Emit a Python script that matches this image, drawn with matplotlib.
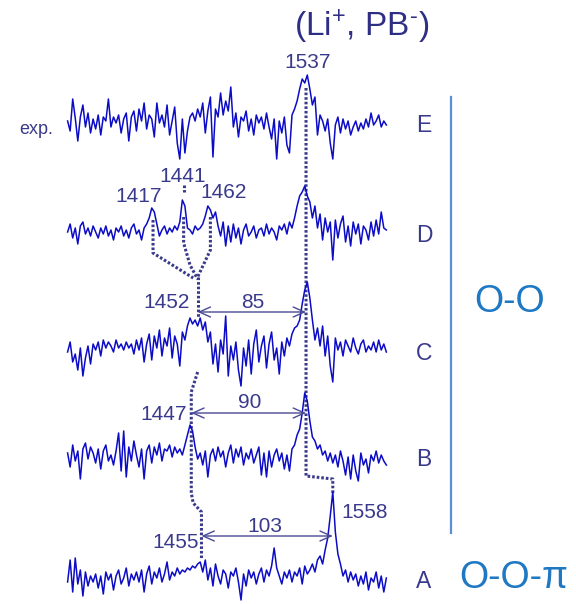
import numpy as np
import matplotlib
matplotlib.use('Agg')
import matplotlib.pyplot as plt

plt.rcParams['font.family'] = ['Liberation Sans', 'DejaVu Sans']
plt.rcParams['mathtext.default'] = 'regular'

# ---------------- data (wavenumber grid start/step, intensities) -------------
WN_START, WN_STEP = 1350, 2

trace_E = [2, -8, 24, 5, -18, 6, 18, -4, 10, -10,
           4, -6, 8, -12, 6, 2, 24, -4, 6, 0,
           8, -10, 4, 10, -18, 6, 12, -8, 14, 2,
           20, -6, 8, 4, -14, 20, 0, 8, -4, 18,
           -12, 2, 16, -20, -36, 4, -30, -8, 6, 10,
           2, 14, 6, 20, -10, 12, 26, -34, 14, 6,
           30, 8, 22, 12, 36, -4, 10, -14, 6, 2,
           12, -8, 4, -12, 8, 0, 6, -6, 10, -4,
           -16, 4, -36, 2, -10, 6, -22, -30, 8, 14,
           22, 34, 44, 40, 48, 34, 18, 26, -12, 8,
           2, -8, 4, -20, -36, -2, 6, -10, 4, -6,
           2, -12, -4, 2, -8, 0, -6, 4, -4, 10,
           -2, 2, 8, -4, 2, -2]

trace_D = [0, 8, -6, 4, -12, 6, 10, -2, 4, -4,
           6, 0, -6, 4, -2, 6, -4, 2, -8, 4,
           0, 6, -4, 2, -6, 4, 8, -2, 2, -8,
           4, 8, 14, 24, 20, 8, -4, 2, 6, -2,
           4, 0, 6, 2, 10, 32, 26, 4, 2, -2,
           6, 2, 4, 8, 16, 26, 22, 14, 20, 6,
           -4, 10, -14, 6, -10, 8, -6, 4, -12, 2,
           8, -4, 0, 6, -6, 2, 4, -4, 8, -2,
           4, 0, -8, 6, 2, 8, -2, 10, 4, 14,
           26, 36, 40, 46, 36, 30, 14, 26, 4, 18,
           -8, 14, 0, 10, -28, 12, -6, 8, 16, -10,
           6, -14, 10, -2, 8, -12, 6, 2, -8, 10,
           -4, 12, -2, 20, 4, 2]

trace_C = [-2, 8, -12, -4, -20, 2, -26, -8, 4, -14,
           6, 0, 8, -6, 10, 2, 8, 4, -2, 10,
           2, 6, 0, 8, 2, 6, -4, 10, 0, 12,
           -12, 6, 16, -10, 14, 2, 20, -6, 12, 4,
           22, -8, 14, 6, -16, 18, 10, 24, 32, 26,
           30, 24, 32, 20, 28, 8, 18, -14, 6, -22,
           10, -4, 34, -26, 4, -10, 8, -20, -36, 2,
           -16, 10, -24, 6, 20, -12, 4, 14, -18, 6,
           18, -10, 2, -24, 8, -6, 12, 4, 16, 22,
           24, 30, 46, 60, 68, 52, 30, 10, 22, 4,
           24, -6, 14, -16, -32, 12, 0, 8, -6, 10,
           4, -2, 12, 2, -4, 6, 10, -2, 4, 0,
           8, -2, 10, 0, 6, -2]

trace_B = [4, -10, 12, -4, 6, -22, 8, 14, -2, 10,
           4, -6, 8, -12, 6, 12, -4, 2, -8, 6,
           24, -14, 26, -20, 10, -4, 16, 2, -10, 8,
           -22, 6, 12, -6, 10, 2, 14, -4, 8, 6,
           12, 0, 10, 4, 8, 2, 12, 22, 32, 26,
           10, -2, 4, -8, 6, -20, 2, 8, -4, 10,
           0, 6, -10, 4, 12, -6, 8, 0, 10, -8,
           4, -2, 8, -6, 2, 10, -18, 4, -20, 6,
           -10, 2, 8, -4, 4, -12, 2, -14, 8, 12,
           22, 28, 44, 64, 56, 36, 20, 16, 8, 12,
           2, 6, -4, 4, -6, 2, -10, 6, -4, -18,
           0, -22, 2, -14, -24, 4, -8, -2, -16, 2,
           -4, 6, -6, 2, -4, -8]

trace_A = [-4, 18, -14, 20, -6, 8, -18, 6, -8, 2,
           -4, 4, -10, 2, -16, 6, -2, 4, -12, 2,
           8, -6, 0, 10, -8, 4, -2, 6, -4, 8,
           -14, 4, 12, -6, 6, 0, 10, -4, 4, 16,
           -2, 6, 2, 10, 4, 8, 6, 10, 8, 12,
           10, 14, 16, 6, 18, -2, 10, -8, 14, 2,
           -6, 8, 4, -10, 6, 2, 10, -4, -22, 4,
           -8, 8, 0, 6, -6, 4, 10, -4, 8, 2,
           12, 30, 10, 2, -6, 6, 0, 8, -4, 6,
           2, 10, -6, 12, 4, 8, 14, 6, 18, 22,
           14, 28, 40, 62, 86, 46, 24, 14, 2, 8,
           -4, 6, -2, 4, -8, 2, -6, 6, -12, 0,
           -4, 6, -10, 2, -14, 0]

traces = [trace_E, trace_D, trace_C, trace_B, trace_A]
trace_names = ['E', 'D', 'C', 'B', 'A']

peak_E = [1537]
peak_D = [1417, 1441, 1462]
peak_C = 1452
peak_B = 1447
peak_A = [1455, 1558]
splittings = [85, 90, 103]

# ---------------- layout ----------------
PX0, WN0, SCALE = 67.6, 1350, 1.275      # pixel of WN0, pixels per cm-1
W, H = 576, 604
baselines = [123, 232, 350, 457, 578]

def xw(px):
    return WN0 + (px - PX0) / SCALE

fig = plt.figure(figsize=(W / 100, H / 100), dpi=100)
ax = fig.add_axes([0, 0, 1, 1])
ax.set_xlim(xw(0), xw(W))
ax.set_ylim(H, 0)
ax.axis('off')

TRACE_COL = '#0c0cc6'
DARK = '#3a3a8c'
OO_COL = '#1f78c4'

for vals, base in zip(traces, baselines):
    x = WN_START + WN_STEP * np.arange(len(vals))
    ax.plot(x, base - np.asarray(vals, float), color=TRACE_COL, lw=1.1, zorder=3)

dot = dict(color=DARK, lw=2.2, linestyle=(0, (0.85, 0.65)), dash_capstyle='butt', zorder=2)
# 1537 -> 1558 guide
ax.plot([peak_E[0], peak_E[0], peak_A[1], peak_A[1]], [88, 476, 479, 493], **dot)
# D components merging to C
ax.plot([peak_D[1], peak_D[1]], [185, 192], **dot)
ax.plot([peak_D[0], peak_D[0], peak_C - 3.5], [220, 253, 278], **dot)
ax.plot([peak_D[1], peak_D[1], peak_D[1] + 5, peak_C], [217, 243, 265, 279], **dot)
ax.plot([peak_D[2], peak_D[2], peak_C], [217, 250, 277], **dot)
ax.plot([peak_C, peak_C], [277, 318], **dot)
# C -> B -> A
ax.plot([peak_C, peak_B, peak_B, peak_B + 1.5, peak_A[0], peak_A[0]],
        [372, 392, 493, 503, 512, 558], **dot)

# splitting arrows
arr_y = [312, 413, 536]
arr_pairs = [(peak_C, 1537), (peak_B, 1537), (peak_A[0], peak_A[1])]
for (a, b), y, s in zip(arr_pairs, arr_y, splittings):
    ax.annotate('', xy=(a, y), xytext=(b, y),
                arrowprops=dict(arrowstyle='<->,head_length=0.4,head_width=0.18',
                                color='#4a4a96', lw=1.0, shrinkA=0, shrinkB=0,
                                mutation_scale=20))
    ax.text((a + b) / 2 + (1 if s != 103 else -2), y - 10, str(s), ha='center', va='center',
            fontsize=15, color=DARK)

num = dict(fontsize=15, color=DARK, ha='center', va='center')
ax.text(xw(308), 62, str(peak_E[0]), **num)
ax.text(xw(139), 197, str(peak_D[0]), **num)
ax.text(xw(183), 177, str(peak_D[1]), **num)
ax.text(xw(224), 193, str(peak_D[2]), **num)
ax.text(xw(167), 303, str(peak_C), **num)
ax.text(xw(164), 415, str(peak_B), **num)
ax.text(xw(176), 543, str(peak_A[0]), **num)
ax.text(xw(365), 513, str(peak_A[1]), **num)

ax.text(xw(36), 129, 'exp.', fontsize=13, color=DARK, ha='center', va='center')

for name, base in zip(trace_names, baselines):
    ax.text(xw(424), base + 3, name, fontsize=16.5, color=DARK, ha='center', va='center')

ax.text(xw(362), 27, r'(Li$^{+}$, PB$^{\u2010}$)'.replace('\\u2010', '\u2010'), fontsize=24,
        color='#2e2e84', ha='center', va='center')

ax.plot([xw(451), xw(451)], [97, 533], color='#5b8ed6', lw=1.6)
ax.text(xw(510), 302, 'O-O', fontsize=27, color=OO_COL, ha='center', va='center')
ax.text(xw(514), 578, 'O-O-π', fontsize=27, color=OO_COL, ha='center', va='center')

fig.savefig('out.png', dpi=100)
